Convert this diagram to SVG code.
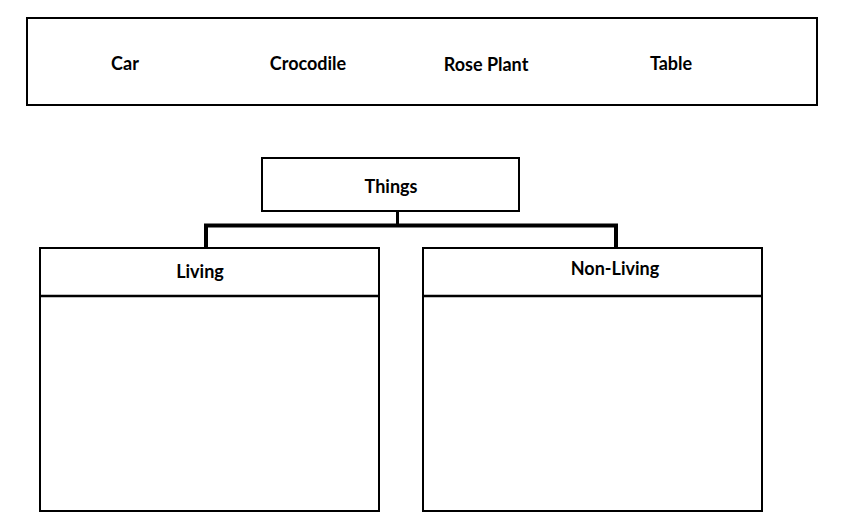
<svg xmlns="http://www.w3.org/2000/svg" width="842" height="522" viewBox="0 0 842 522">
<style>
.box{fill:#fff;stroke:#000;stroke-width:2}
.t{font-family:Lato,"Liberation Sans",sans-serif;font-weight:bold;font-size:18px;fill:#000;text-anchor:middle}
.c{fill:none;stroke:#000;stroke-width:4}
</style>
<rect width="842" height="522" fill="#fff"/>
<g id="items">
<rect class="box" x="27" y="18" width="790" height="87"/>
<text class="t" x="125" y="69.5">Car</text>
<text class="t" x="308" y="69.5">Crocodile</text>
<text class="t" x="486" y="70.5">Rose Plant</text>
<text class="t" x="671" y="69.5">Table</text>
</g>
<g id="connectors">
<path class="c" d="M397.5 211V225.5" style="stroke-width:3"/>
<path class="c" d="M206 248V225.5H616V248"/>
</g>
<g id="things">
<rect class="box" x="262" y="158" width="257" height="53"/>
<text class="t" x="391" y="193">Things</text>
</g>
<g id="living">
<rect class="box" x="40" y="248" width="339" height="263"/>
<path d="M40 296H379" stroke="#000" stroke-width="2.5"/>
<text class="t" x="200" y="278">Living</text>
</g>
<g id="nonliving">
<rect class="box" x="423" y="248" width="339" height="263"/>
<path d="M423 296H762" stroke="#000" stroke-width="2.5"/>
<text class="t" x="615" y="275">Non-Living</text>
</g>
</svg>
